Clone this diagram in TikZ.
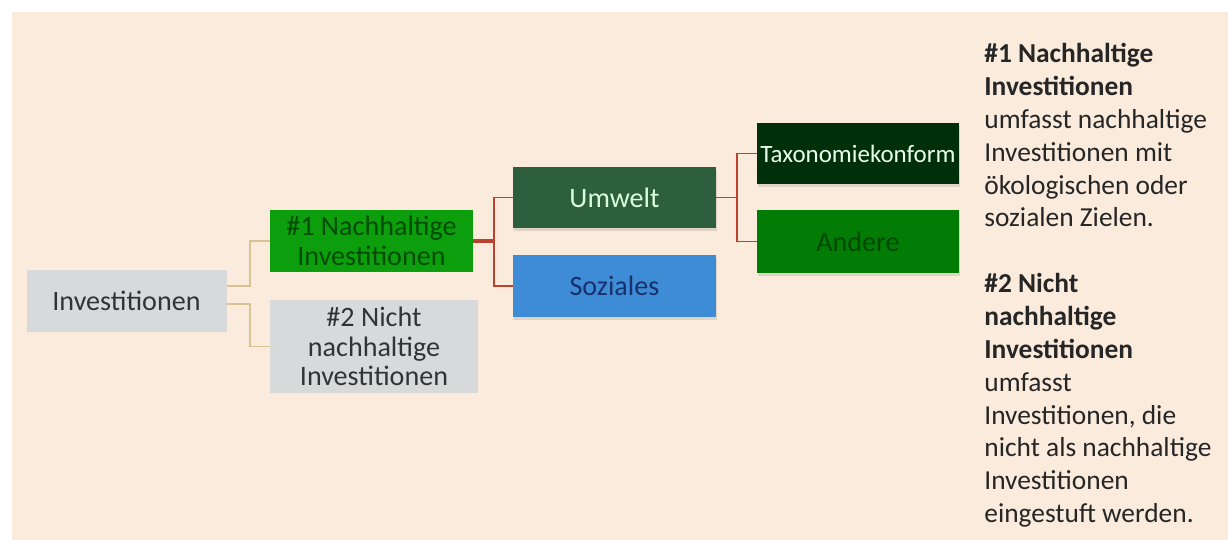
\documentclass[tikz,border=0pt]{standalone}
\usepackage{fontspec}
\setmainfont{Carlito}
\usepackage{tikz}
\usepackage{xcolor}
\usetikzlibrary{shadows}
\definecolor{hintergrund}{RGB}{250,235,221}
\definecolor{grau}{RGB}{216,217,219}
\definecolor{hellgruen}{RGB}{12,158,12}
\definecolor{waldgruen}{RGB}{45,94,62}
\definecolor{himmelblau}{RGB}{62,140,214}
\definecolor{nachtgruen}{RGB}{0,48,10}
\definecolor{mittelgruen}{RGB}{2,124,4}
\definecolor{gold}{RGB}{214,194,146}
\definecolor{rostrot}{RGB}{186,66,46}
\definecolor{marine}{RGB}{24,48,108}

\begin{document}
\begin{tikzpicture}[box/.style={inner sep=0pt, align=center, font=\fontsize{16}{16.8}\selectfont},
	schatten/.style={drop shadow={opacity=0.22, shadow xshift=0.4pt, shadow yshift=-1.6pt}},
	goldlinie/.style={gold, line width=1.1pt},
	rotlinie/.style={rostrot, line width=1.1pt}]
				\fill [white](0,0)rectangle(24.56,-10.8);
				\fill [hintergrund](0.24,-0.24)rectangle(24.56,-10.8);
				\node [box, fill=grau, minimum width=4cm, minimum height=1.24cm, text=black!80] (inv) at (2.53,-6.02){Investitionen};
				\node [box, fill=hellgruen, minimum width=4.06cm, minimum height=1.24cm, text=green!30!black] (nach) at (7.43,-4.82){\#1 Nachhaltige\\Investitionen};
				\node [box, fill=grau, minimum width=4.16cm, minimum height=1.86cm, text=black!80] (nicht) at (7.48,-6.93){\#2 Nicht\\nachhaltige\\Investitionen};
				\node [box, schatten, fill=waldgruen, minimum width=4.06cm, minimum height=1.22cm, text=green!15!white] (umwelt) at (12.29,-3.95){Umwelt};
				\node [box, schatten, fill=himmelblau, minimum width=4.06cm, minimum height=1.24cm, text=marine] (sozial) at (12.29,-5.72){Soziales};
				\node [box, schatten, fill=nachtgruen, minimum width=4.04cm, minimum height=1.22cm, text=green!8!white, font=\fontsize{14.2}{15}\selectfont] (taxo) at (17.16,-3.07){Taxonomiekonform};
				\node [box, schatten, fill=mittelgruen, minimum width=4.04cm, minimum height=1.26cm, text=green!28!black] (andere) at (17.16,-4.83){Andere};
				\draw [goldlinie]([yshift=0.3cm]inv.east) -- ++(0.46,0) |- (nach.west);
				\draw [goldlinie]([yshift=-0.06cm]inv.east) -- ++(0.46,0) |- (nicht.west);
				\draw [rotlinie, line width=2pt](nach.east) -- ++(0.42,0) coordinate (r1);
				\draw [rotlinie](r1) |- (umwelt.west);
				\draw [rotlinie](r1) |- (sozial.west);
				\draw [rotlinie](umwelt.east) -- ++(0.42,0) coordinate (r2);
				\draw [rotlinie](r2) |- (taxo.west);
				\draw [rotlinie](r2) |- (andere.west);
				\node [anchor=north west, inner sep=0pt, align=left, text=black!85, font=\fontsize{15.6}{18.7}\selectfont] (erklaerung) at (19.68,-0.86){\textbf{\#1 Nachhaltige}\\\textbf{Investitionen}\\umfasst nachhaltige\\Investitionen mit\\ökologischen oder\\sozialen Zielen.\\[18.7pt]\textbf{\#2 Nicht}\\\textbf{nachhaltige}\\\textbf{Investitionen}\\umfasst\\Investitionen, die\\nicht als nachhaltige\\Investitionen\\eingestuft werden.};
			\end{tikzpicture}
\end{document}
